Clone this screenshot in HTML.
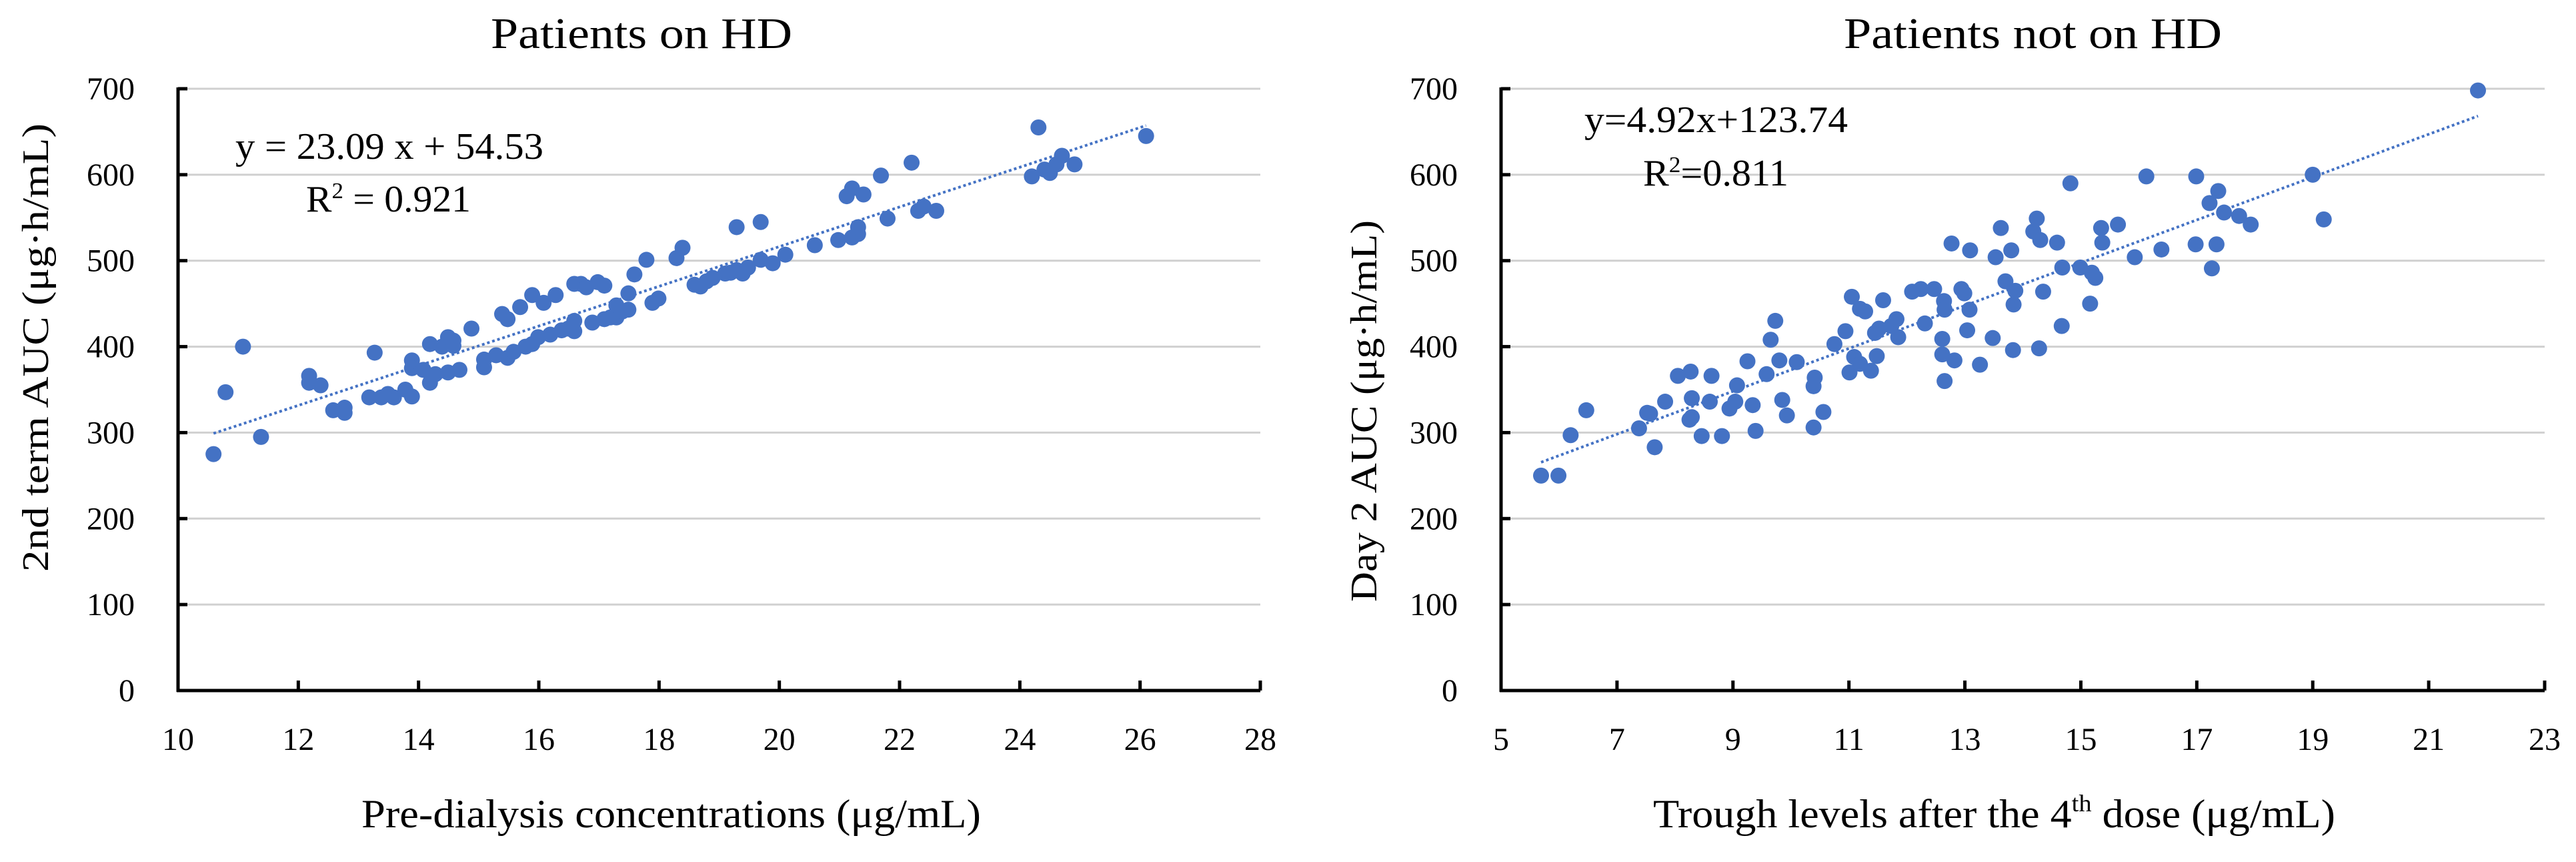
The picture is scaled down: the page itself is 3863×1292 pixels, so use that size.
<!DOCTYPE html>
<html><head><meta charset="utf-8"><style>
html,body{margin:0;padding:0;background:#fff;}
svg{display:block;font-family:"Liberation Serif",serif;}
</style></head><body>
<svg id="svg" width="3863" height="1292" viewBox="0 0 3863 1292" xmlns="http://www.w3.org/2000/svg">
<g id="left"></g>
<g id="right"></g>
</svg>
<script>
const leftX=[10.59,10.79,11.08,11.38,12.18,12.18,12.37,12.58,12.77,12.77,13.27,13.18,13.38,13.49,13.59,13.78,13.89,13.89,13.89,14.08,14.19,14.19,14.28,14.39,14.49,14.49,14.58,14.58,14.68,14.88,15.09,15.09,15.29,15.39,15.48,15.48,15.58,15.69,15.78,15.89,15.89,15.99,16.08,16.19,16.28,16.38,16.49,16.59,16.59,16.59,16.70,16.79,16.89,16.98,17.09,17.09,17.19,17.29,17.29,17.39,17.49,17.49,17.59,17.79,17.89,17.99,18.29,18.39,18.59,18.69,18.79,18.89,19.10,19.19,19.29,19.29,19.39,19.48,19.69,19.69,19.89,20.10,20.59,20.98,21.12,21.21,21.21,21.31,21.31,21.40,21.69,21.80,22.20,22.31,22.40,22.61,24.20,24.31,24.41,24.50,24.61,24.70,24.91,26.10];
const leftY=[275,347,400,295,366,358,355,326,329,323,393,341,341,345,341,350,342,384,375,373,358,403,368,400,411,370,407,401,373,421,376,385,390,438,432,387,394,446,400,460,403,411,451,414,460,419,421,473,430,418,473,469,428,475,471,432,434,434,448,441,462,443,484,501,451,456,503,515,472,470,476,480,485,486,539,489,485,492,545,501,497,507,518,524,575,584,527,531,539,577,599,549,614,558,563,558,598,655,606,602,612,622,612,645];
const rightX=[5.69,5.99,6.20,6.47,7.38,7.52,7.57,7.65,7.83,8.05,8.25,8.27,8.29,8.29,8.46,8.60,8.63,8.81,8.94,9.04,9.07,9.25,9.34,9.39,9.58,9.65,9.73,9.80,9.85,9.93,10.10,10.39,10.39,10.41,10.56,10.75,10.94,11.01,11.05,11.09,11.19,11.19,11.28,11.38,11.45,11.48,11.52,11.59,11.73,11.82,11.85,12.09,12.24,12.31,12.47,12.61,12.61,12.64,12.65,12.65,12.77,12.82,12.94,12.99,13.04,13.08,13.09,13.26,13.48,13.53,13.62,13.70,13.80,13.83,13.84,13.87,14.18,14.24,14.28,14.30,14.35,14.59,14.67,14.68,14.82,14.99,15.16,15.19,15.25,15.35,15.37,15.64,15.93,16.13,16.39,16.98,16.99,17.22,17.26,17.34,17.37,17.47,17.73,17.93,19.0,19.19,21.85];
const rightY=[250,250,297,326,305,323,322,283,336,366,315,371,340,318,296,336,366,296,328,336,355,383,332,302,368,408,430,384,338,320,382,306,354,364,324,403,418,370,458,388,444,380,441,372,416,389,421,454,424,432,411,464,467,427,467,409,391,453,443,360,520,384,467,462,419,443,512,379,410,504,538,476,512,396,449,465,534,549,398,524,464,521,424,492,590,492,450,486,480,538,521,542,504,598,513,519,598,567,491,519,581,556,552,542,600,548,698];
const yTicks=[0,100,200,300,400,500,600,700];
const leftXTicks=[10,12,14,16,18,20,22,24,26,28];
const rightXTicks=[5,7,9,11,13,15,17,19,21,23];
const leftFit={m:23.09,b:54.53,x0:10.59,x1:26.10};
const rightFit={m:24.92,b:123.74,x0:5.69,x1:21.85};
const NS="http://www.w3.org/2000/svg";
function mk(parent,tag,attrs,text){const e=document.createElementNS(NS,tag);for(const k in attrs)e.setAttribute(k,attrs[k]);if(text!==undefined)e.textContent=text;parent.appendChild(e);return e;}
function chart(g,cfg){
  const sx=v=>cfg.ax+(v-cfg.xmin)/(cfg.xmax-cfg.xmin)*(cfg.ax1-cfg.ax);
  const sy=v=>1035-(v/700)*(1035-133);
  yTicks.forEach(t=>{
    if(t>0){const l=mk(g,'line',{x1:cfg.ax,x2:cfg.ax1,y1:sy(t),y2:sy(t),stroke:'#d0d0d0','stroke-width':3});
    
    
    const tk=mk(g,'line',{x1:cfg.ax,x2:cfg.ax+14,y1:sy(t),y2:sy(t),stroke:'#000','stroke-width':5});
    
    }
    const tl=mk(g,'text',{x:cfg.ylabR,y:sy(t)+16,'text-anchor':'end','font-size':48},String(t));
    
    
  });
  cfg.xt.forEach((t,i)=>{
    if(i>0){const tk=mk(g,'line',{x1:sx(t),x2:sx(t),y1:1035,y2:1020,stroke:'#000','stroke-width':5});
    
    }
    const tl=mk(g,'text',{x:sx(t),y:1124,'text-anchor':'middle','font-size':48},String(t));
    
    
  });
  const ya=mk(g,'line',{x1:cfg.ax,x2:cfg.ax,y1:131,y2:1037,stroke:'#000','stroke-width':5});
  
  
  const xa=mk(g,'line',{x1:cfg.ax-2,x2:cfg.ax1,y1:1035,y2:1035,stroke:'#000','stroke-width':5});
  
  
  cfg.xs.forEach((x,i)=>{
    const c=mk(g,'circle',{cx:sx(x),cy:sy(cfg.ys[i]),r:12,fill:'#4472C4'});
    
    
  });
  const f=cfg.fit;
  const tr=mk(g,'line',{x1:sx(f.x0),y1:sy(f.m*f.x0+f.b),x2:sx(f.x1),y2:sy(f.m*f.x1+f.b),stroke:'#4472C4','stroke-width':4,'stroke-dasharray':'4 4'});
  
  
}
chart(document.getElementById('left'),{ax:267,ax1:1890,xmin:10,xmax:28,xt:leftXTicks,xs:leftX,ys:leftY,fit:leftFit,ylabR:202});
chart(document.getElementById('right'),{ax:2251,ax1:3816,xmin:5,xmax:23,xt:rightXTicks,xs:rightX,ys:rightY,fit:rightFit,ylabR:2186});
</script>
<svg style="position:absolute;left:0;top:0" width="3863" height="1292" viewBox="0 0 3863 1292" xmlns="http://www.w3.org/2000/svg" font-family="Liberation Serif, serif">
<text x="736" y="72" font-size="66" textLength="452" lengthAdjust="spacingAndGlyphs">Patients on HD</text>
<text x="2765" y="72" font-size="66" textLength="567" lengthAdjust="spacingAndGlyphs">Patients not on HD</text>
<text x="353" y="238" font-size="56" textLength="462" lengthAdjust="spacingAndGlyphs">y = 23.09 x + 54.53</text>
<text x="459" y="317" font-size="56" textLength="247" lengthAdjust="spacingAndGlyphs">R<tspan font-size="34" dy="-20">2</tspan><tspan dy="20"> = 0.921</tspan></text>
<text x="2376" y="198" font-size="56" textLength="395" lengthAdjust="spacingAndGlyphs">y=4.92x+123.74</text>
<text x="2464" y="278" font-size="56" textLength="218" lengthAdjust="spacingAndGlyphs">R<tspan font-size="34" dy="-20">2</tspan><tspan dy="20">=0.811</tspan></text>
<text x="542" y="1240" font-size="60" textLength="929" lengthAdjust="spacingAndGlyphs">Pre-dialysis concentrations (μg/mL)</text>
<text x="2479" y="1240" font-size="60" textLength="1023" lengthAdjust="spacingAndGlyphs">Trough levels after the 4<tspan font-size="36" dy="-24">th</tspan><tspan dy="24"> dose (μg/mL)</tspan></text>
<text transform="translate(72,521) rotate(-90)" text-anchor="middle" font-size="56" textLength="672" lengthAdjust="spacingAndGlyphs">2nd term AUC  (μg·h/mL)</text>
<text transform="translate(2064,616) rotate(-90)" text-anchor="middle" font-size="56" textLength="572" lengthAdjust="spacingAndGlyphs">Day 2 AUC (μg·h/mL)</text>
</svg>
</body></html>
